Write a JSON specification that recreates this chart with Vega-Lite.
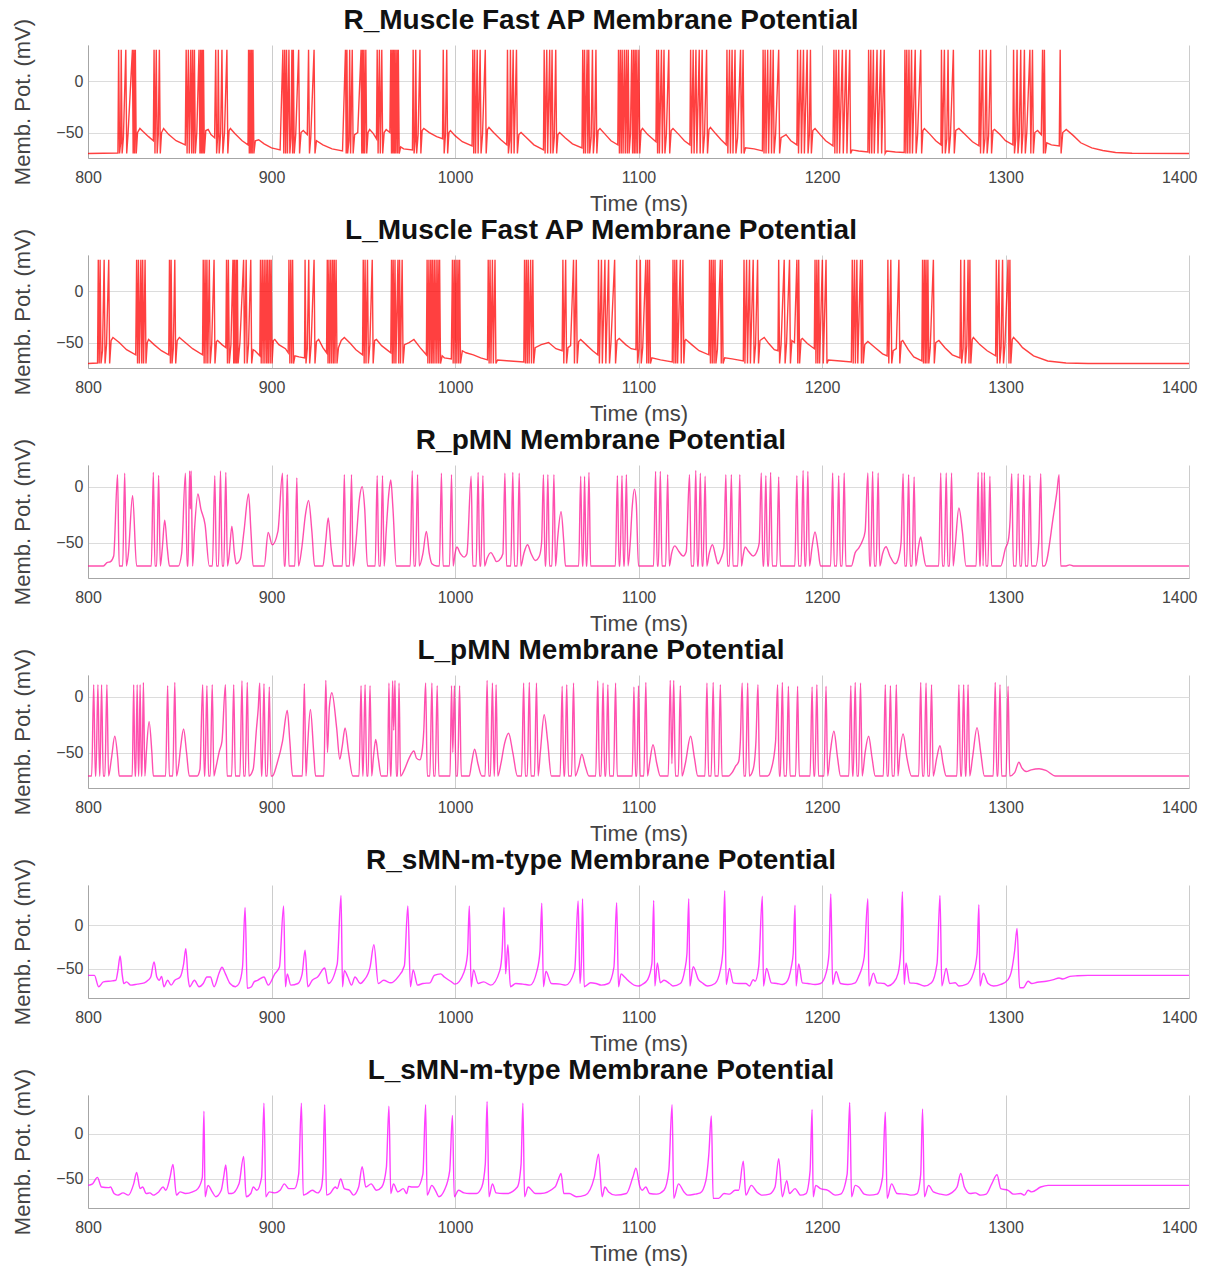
{
  "$schema": "https://vega.github.io/schema/vega-lite/v6.json",
  "padding": {"left": 11, "top": 7, "right": 8, "bottom": 4},
  "spacing": 97,
  "bounds": "flush",
  "config": {
    "view": {"stroke": null},
    "font": "Liberation Sans",
    "axis": {
      "labelFont": "Liberation Sans",
      "labelFontSize": 16,
      "labelColor": "#444444",
      "titleFont": "Liberation Sans",
      "titleFontSize": 22,
      "titleFontWeight": "normal",
      "titleColor": "#444444",
      "ticks": false,
      "tickSize": 0,
      "domainColor": "#a6a6a6",
      "domainWidth": 1,
      "grid": true,
      "gridWidth": 1
    },
    "axisX": {
      "labelPadding": 11.5,
      "labelFlush": false,
      "labelOverlap": false,
      "gridColor": "#cccccc"
    },
    "axisY": {
      "labelPadding": 5,
      "gridColor": "#dcdcdc"
    },
    "title": {
      "font": "Liberation Sans",
      "fontSize": 28,
      "fontWeight": "bold",
      "color": "#111111",
      "anchor": "middle",
      "frame": "bounds",
      "baseline": "alphabetic",
      "offset": -17,
      "dx": -3
    }
  },
  "datasets": {
    "rm": [
      {"t":800,"v":-70.5},{"t":816.3,"v":-70},
      {"t":816.7,"v":31},{"t":817.2,"v":-70.5},{"t":817.8,"v":-60},{"t":818.1,"v":31},{"t":818.6,"v":-70.5},{"t":819.3,"v":-55},{"t":820.6,"v":31},{"t":821.1,"v":-70.5},{"t":821.8,"v":-52},{"t":824.2,"v":31},{"t":824.6,"v":-70.5},{"t":825,"v":31},{"t":825.4,"v":-70.5},{"t":825.8,"v":31},{"t":826.3,"v":-70.5},{"t":827,"v":-50},{"t":828.3,"v":-46},{"t":830,"v":-49},{"t":833,"v":-54},{"t":835.6,"v":-58},
      {"t":836,"v":31},{"t":836.5,"v":-70.5},{"t":837.2,"v":31},{"t":837.7,"v":-70.5},{"t":838.3,"v":-52},{"t":838.9,"v":31},{"t":839.4,"v":-70.5},{"t":840.1,"v":-50},{"t":841.2,"v":-46},{"t":844,"v":-52},{"t":848,"v":-58},{"t":853,"v":-62},
      {"t":853.5,"v":31},{"t":854,"v":-70.5},{"t":854.7,"v":31},{"t":855.2,"v":-70.5},{"t":856,"v":31},{"t":856.5,"v":-70.5},{"t":857,"v":31},{"t":857.5,"v":-70.5},{"t":858,"v":31},{"t":858.5,"v":-70.5},{"t":859.3,"v":-50},{"t":860.5,"v":31},{"t":861,"v":-70.5},{"t":861.4,"v":31},{"t":861.8,"v":-70.5},{"t":862.2,"v":31},{"t":862.6,"v":-70.5},{"t":862.9,"v":31},{"t":863.4,"v":-70.5},{"t":864.2,"v":-48},{"t":865.5,"v":-47},{"t":867,"v":-52},{"t":869,"v":-55},
      {"t":869.6,"v":31},{"t":870.1,"v":-70.5},{"t":870.7,"v":-52},{"t":871,"v":31},{"t":871.5,"v":-70.5},{"t":872.3,"v":-50},{"t":873,"v":31},{"t":873.5,"v":-70.5},{"t":874.4,"v":-50},{"t":875.7,"v":31},{"t":876.2,"v":-70.5},{"t":876.9,"v":-48},{"t":877.6,"v":-46},{"t":880,"v":-51},{"t":884,"v":-58},{"t":887.2,"v":-62},
      {"t":887.5,"v":31},{"t":887.9,"v":-70.5},{"t":888.3,"v":31},{"t":888.7,"v":-70.5},{"t":889.1,"v":31},{"t":889.5,"v":-70.5},{"t":889.9,"v":31},{"t":890.4,"v":-70.5},{"t":891.2,"v":-58},{"t":893,"v":-57},{"t":896,"v":-61},{"t":900,"v":-65},{"t":904.7,"v":-67},
      {"t":906.2,"v":31},{"t":906.7,"v":-70.5},{"t":907.2,"v":31},{"t":907.7,"v":-70.5},{"t":908.2,"v":31},{"t":908.7,"v":-70.5},{"t":909.5,"v":31},{"t":910,"v":-70.5},{"t":910.6,"v":-55},{"t":911.1,"v":31},{"t":911.5,"v":-70.5},{"t":911.9,"v":31},{"t":912.4,"v":-70.5},{"t":913.2,"v":-52},{"t":914.8,"v":31},{"t":915.3,"v":-70.5},{"t":916.1,"v":-50},{"t":917.3,"v":-48},{"t":919.5,"v":-52},{"t":920.2,"v":31},{"t":920.7,"v":-70.5},{"t":921.4,"v":-55},{"t":923.2,"v":31},{"t":923.7,"v":-70.5},{"t":924.5,"v":-58},{"t":928,"v":-62},{"t":933,"v":-66},{"t":938.7,"v":-68},
      {"t":940.3,"v":31},{"t":940.7,"v":-70.5},{"t":941.1,"v":31},{"t":941.5,"v":-70.5},{"t":942.2,"v":-58},{"t":942.6,"v":31},{"t":943.1,"v":-70.5},{"t":944,"v":31},{"t":944.5,"v":-70.5},{"t":945.3,"v":-52},{"t":947,"v":-50},{"t":948.8,"v":31},{"t":949.2,"v":-70.5},{"t":949.6,"v":31},{"t":950,"v":-70.5},{"t":950.4,"v":31},{"t":950.8,"v":-70.5},{"t":951.4,"v":31},{"t":951.9,"v":-70.5},{"t":952.6,"v":-50},{"t":953.5,"v":-47},{"t":955.5,"v":-51},{"t":957.2,"v":-56},
      {"t":957.6,"v":31},{"t":958.1,"v":-70.5},{"t":958.8,"v":31},{"t":959.3,"v":-70.5},{"t":960.1,"v":31},{"t":960.6,"v":-70.5},{"t":961.4,"v":-50},{"t":962.5,"v":-47},{"t":964.5,"v":-50},{"t":965,"v":31},{"t":965.4,"v":-70.5},{"t":965.8,"v":31},{"t":966.2,"v":-70.5},{"t":966.6,"v":31},{"t":967,"v":-70.5},{"t":967.4,"v":31},{"t":967.8,"v":-70.5},{"t":968.3,"v":31},{"t":968.7,"v":-70.5},{"t":969.1,"v":31},{"t":969.6,"v":-70.5},{"t":970.4,"v":-64},{"t":972,"v":-66},{"t":976.8,"v":-67},
      {"t":977.2,"v":31},{"t":977.7,"v":-70.5},{"t":978.3,"v":-58},{"t":978.6,"v":31},{"t":979.1,"v":-70.5},{"t":979.9,"v":-52},{"t":980.9,"v":31},{"t":981.4,"v":-70.5},{"t":982.1,"v":-48},{"t":983,"v":-46},{"t":986,"v":-50},{"t":990,"v":-54},{"t":993.2,"v":-56},
      {"t":993.6,"v":31},{"t":994.1,"v":-70.5},{"t":994.8,"v":-52},{"t":995.5,"v":31},{"t":996,"v":-70.5},{"t":996.7,"v":-50},{"t":997.5,"v":-48},{"t":1000,"v":-53},{"t":1004,"v":-59},{"t":1009.3,"v":-63},
      {"t":1009.7,"v":31},{"t":1010.2,"v":-70.5},{"t":1010.7,"v":31},{"t":1011.2,"v":-70.5},{"t":1012.1,"v":31},{"t":1012.6,"v":-70.5},{"t":1013.7,"v":31},{"t":1014.2,"v":-70.5},{"t":1015,"v":-52},{"t":1016.5,"v":31},{"t":1017,"v":-70.5},{"t":1017.7,"v":-47},{"t":1018.5,"v":-45},{"t":1021,"v":-50},{"t":1025,"v":-57},{"t":1028.2,"v":-62},
      {"t":1028.6,"v":31},{"t":1029.1,"v":-70.5},{"t":1029.8,"v":-58},{"t":1030.2,"v":31},{"t":1030.7,"v":-70.5},{"t":1031.7,"v":31},{"t":1032.2,"v":-70.5},{"t":1033.5,"v":31},{"t":1034,"v":-70.5},{"t":1034.8,"v":-52},{"t":1036,"v":-50},{"t":1039,"v":-55},{"t":1043,"v":-62},{"t":1048.2,"v":-67},
      {"t":1048.6,"v":31},{"t":1049.1,"v":-70.5},{"t":1050,"v":31},{"t":1050.5,"v":-70.5},{"t":1051.6,"v":31},{"t":1052.1,"v":-70.5},{"t":1052.9,"v":31},{"t":1053.4,"v":-70.5},{"t":1054.1,"v":-55},{"t":1054.9,"v":31},{"t":1055.4,"v":-70.5},{"t":1056.1,"v":-52},{"t":1057,"v":-50},{"t":1060,"v":-55},{"t":1064,"v":-61},{"t":1069.2,"v":-65},
      {"t":1069.6,"v":31},{"t":1070.1,"v":-70.5},{"t":1070.6,"v":31},{"t":1071.1,"v":-70.5},{"t":1072,"v":31},{"t":1072.4,"v":-70.5},{"t":1072.9,"v":31},{"t":1073.4,"v":-70.5},{"t":1074.2,"v":-55},{"t":1074.9,"v":31},{"t":1075.4,"v":-70.5},{"t":1076.1,"v":-52},{"t":1076.8,"v":31},{"t":1077.3,"v":-70.5},{"t":1078,"v":-48},{"t":1079,"v":-46},{"t":1082,"v":-52},{"t":1085,"v":-58},{"t":1088.7,"v":-62},
      {"t":1089.1,"v":31},{"t":1089.6,"v":-70.5},{"t":1090.1,"v":31},{"t":1090.6,"v":-70.5},{"t":1091.1,"v":31},{"t":1091.6,"v":-70.5},{"t":1092.3,"v":31},{"t":1092.8,"v":-70.5},{"t":1093.4,"v":31},{"t":1093.9,"v":-70.5},{"t":1094.4,"v":31},{"t":1094.9,"v":-70.5},{"t":1095.6,"v":-52},{"t":1096.3,"v":31},{"t":1096.8,"v":-70.5},{"t":1097.3,"v":31},{"t":1097.7,"v":-70.5},{"t":1098.2,"v":31},{"t":1098.6,"v":-70.5},{"t":1099.1,"v":31},{"t":1099.5,"v":-70.5},{"t":1100.2,"v":31},{"t":1100.7,"v":-70.5},{"t":1101.4,"v":-48},{"t":1102.2,"v":-46},{"t":1105,"v":-52},{"t":1109.5,"v":-59},
      {"t":1109.9,"v":31},{"t":1110.4,"v":-70.5},{"t":1110.9,"v":31},{"t":1111.4,"v":-70.5},{"t":1112.5,"v":31},{"t":1113,"v":-70.5},{"t":1113.9,"v":31},{"t":1114.4,"v":-70.5},{"t":1115.2,"v":-52},{"t":1116.5,"v":31},{"t":1117,"v":-70.5},{"t":1117.8,"v":-48},{"t":1118.8,"v":-46},{"t":1122,"v":-52},{"t":1125,"v":-58},{"t":1128,"v":-62},
      {"t":1128.4,"v":31},{"t":1128.9,"v":-70.5},{"t":1129.8,"v":31},{"t":1130.3,"v":-70.5},{"t":1131.3,"v":31},{"t":1131.8,"v":-70.5},{"t":1133.1,"v":31},{"t":1133.6,"v":-70.5},{"t":1134.7,"v":31},{"t":1135.2,"v":-70.5},{"t":1136,"v":-52},{"t":1137.1,"v":31},{"t":1137.6,"v":-70.5},{"t":1138.4,"v":-47},{"t":1139.2,"v":-45},{"t":1142,"v":-51},{"t":1145,"v":-57},{"t":1147.8,"v":-62},
      {"t":1148.2,"v":31},{"t":1148.7,"v":-70.5},{"t":1149.6,"v":31},{"t":1150.1,"v":-70.5},{"t":1151,"v":31},{"t":1151.5,"v":-70.5},{"t":1152.6,"v":31},{"t":1153.1,"v":-70.5},{"t":1154,"v":-55},{"t":1155.6,"v":31},{"t":1156.1,"v":-70.5},{"t":1157,"v":31},{"t":1157.5,"v":-70.5},{"t":1158.3,"v":-65},{"t":1163,"v":-66},{"t":1167.5,"v":-68},
      {"t":1167.9,"v":31},{"t":1168.4,"v":-70.5},{"t":1169,"v":31},{"t":1169.5,"v":-70.5},{"t":1170.4,"v":31},{"t":1170.9,"v":-70.5},{"t":1172,"v":31},{"t":1172.5,"v":-70.5},{"t":1173.4,"v":31},{"t":1173.9,"v":-70.5},{"t":1174.7,"v":-52},{"t":1176.4,"v":31},{"t":1176.9,"v":-70.5},{"t":1177.7,"v":-55},{"t":1180.4,"v":-52},{"t":1183,"v":-58},{"t":1186.3,"v":-62},
      {"t":1186.7,"v":31},{"t":1187.2,"v":-70.5},{"t":1188.3,"v":31},{"t":1188.8,"v":-70.5},{"t":1189.9,"v":31},{"t":1190.4,"v":-70.5},{"t":1191.9,"v":31},{"t":1192.4,"v":-70.5},{"t":1193.1,"v":-52},{"t":1193.7,"v":31},{"t":1194.2,"v":-70.5},{"t":1195,"v":-48},{"t":1196.2,"v":-46},{"t":1199,"v":-52},{"t":1202,"v":-58},{"t":1206,"v":-63},
      {"t":1206.5,"v":31},{"t":1207,"v":-70.5},{"t":1207.7,"v":31},{"t":1208.2,"v":-70.5},{"t":1209.1,"v":31},{"t":1209.6,"v":-70.5},{"t":1211.1,"v":31},{"t":1211.6,"v":-70.5},{"t":1213.1,"v":31},{"t":1213.6,"v":-70.5},{"t":1215.1,"v":31},{"t":1215.6,"v":-70.5},{"t":1216.4,"v":-67},{"t":1220,"v":-68},{"t":1225,"v":-69},
      {"t":1225.4,"v":31},{"t":1225.9,"v":-70.5},{"t":1226.6,"v":31},{"t":1227.1,"v":-70.5},{"t":1228,"v":31},{"t":1228.5,"v":-70.5},{"t":1230,"v":31},{"t":1230.5,"v":-70.5},{"t":1232,"v":31},{"t":1232.5,"v":-70.5},{"t":1233.9,"v":31},{"t":1234.4,"v":-70.5},{"t":1235.2,"v":-68},{"t":1240,"v":-69},{"t":1244.8,"v":-69.5},
      {"t":1245.2,"v":31},{"t":1245.7,"v":-70.5},{"t":1246.2,"v":31},{"t":1246.7,"v":-70.5},{"t":1247.4,"v":31},{"t":1247.9,"v":-70.5},{"t":1248.8,"v":31},{"t":1249.3,"v":-70.5},{"t":1250.8,"v":31},{"t":1251.3,"v":-70.5},{"t":1252.1,"v":-52},{"t":1253.8,"v":31},{"t":1254.3,"v":-70.5},{"t":1255,"v":-48},{"t":1255.8,"v":-46},{"t":1259,"v":-52},{"t":1262,"v":-58},{"t":1264.8,"v":-62},
      {"t":1265.1,"v":31},{"t":1265.6,"v":-70.5},{"t":1266.7,"v":31},{"t":1267.2,"v":-70.5},{"t":1268,"v":-56},{"t":1268.7,"v":31},{"t":1269.2,"v":-70.5},{"t":1270,"v":-53},{"t":1271.6,"v":31},{"t":1272.1,"v":-70.5},{"t":1272.9,"v":-48},{"t":1274.6,"v":-46},{"t":1278,"v":-52},{"t":1282,"v":-59},{"t":1285.5,"v":-63},
      {"t":1285.9,"v":31},{"t":1286.4,"v":-70.5},{"t":1287.5,"v":31},{"t":1288,"v":-70.5},{"t":1288.8,"v":-56},{"t":1289.5,"v":31},{"t":1290,"v":-70.5},{"t":1290.8,"v":-53},{"t":1291.9,"v":31},{"t":1292.4,"v":-70.5},{"t":1293.2,"v":-48},{"t":1294,"v":-47},{"t":1297,"v":-52},{"t":1300,"v":-58},{"t":1304,"v":-62},
      {"t":1304.4,"v":31},{"t":1304.9,"v":-70.5},{"t":1305.6,"v":-56},{"t":1306.3,"v":31},{"t":1306.8,"v":-70.5},{"t":1307.5,"v":-53},{"t":1308.3,"v":31},{"t":1308.8,"v":-70.5},{"t":1309.5,"v":-51},{"t":1310.3,"v":31},{"t":1310.8,"v":-70.5},{"t":1311.6,"v":-50},{"t":1313.3,"v":31},{"t":1313.8,"v":-70.5},{"t":1314.7,"v":31},{"t":1315.2,"v":-70.5},{"t":1316,"v":-50},{"t":1317.5,"v":-48},{"t":1319.5,"v":-52},{"t":1320.2,"v":31},{"t":1320.7,"v":-70.5},{"t":1321.2,"v":31},{"t":1321.7,"v":-70.5},{"t":1322.5,"v":-60},{"t":1325,"v":-62},{"t":1329.3,"v":-63},{"t":1329.8,"v":31},{"t":1330.3,"v":-70.5},{"t":1331.2,"v":-50},{"t":1333.1,"v":-47},{"t":1337,"v":-53},{"t":1341,"v":-60},{"t":1347,"v":-65},{"t":1353,"v":-67.5},{"t":1360,"v":-69.5},{"t":1369,"v":-70.3},{"t":1400,"v":-70.5}
    ],
    "lm": [
      {"t":800,"v":-70.5},{"t":805.2,"v":-70},
      {"t":805.6,"v":31},{"t":806.1,"v":-70.5},{"t":806.6,"v":31},{"t":807.1,"v":-70.5},{"t":807.9,"v":-58},{"t":808.8,"v":31},{"t":809.3,"v":-70.5},{"t":810.1,"v":-52},{"t":811.3,"v":31},{"t":811.8,"v":-70.5},{"t":812.6,"v":-48},{"t":813.6,"v":-45},{"t":817,"v":-50},{"t":821,"v":-57},{"t":826,"v":-62},
      {"t":826.5,"v":31},{"t":827,"v":-70.5},{"t":827.5,"v":31},{"t":828,"v":-70.5},{"t":828.8,"v":31},{"t":829.3,"v":-70.5},{"t":829.8,"v":31},{"t":830.3,"v":-70.5},{"t":831.1,"v":31},{"t":831.6,"v":-70.5},{"t":832.3,"v":-50},{"t":833,"v":-47},{"t":836,"v":-52},{"t":840,"v":-58},{"t":844,"v":-62},
      {"t":844.4,"v":31},{"t":844.9,"v":-70.5},{"t":845.3,"v":31},{"t":845.8,"v":-70.5},{"t":846.5,"v":-56},{"t":847.3,"v":31},{"t":847.8,"v":-70.5},{"t":848.6,"v":-48},{"t":849.8,"v":-45},{"t":853,"v":-50},{"t":857,"v":-56},{"t":862.4,"v":-62},
      {"t":862.8,"v":31},{"t":863.3,"v":-70.5},{"t":863.8,"v":31},{"t":864.3,"v":-70.5},{"t":864.8,"v":31},{"t":865.3,"v":-70.5},{"t":866.1,"v":31},{"t":866.6,"v":-70.5},{"t":867.4,"v":-52},{"t":868.7,"v":31},{"t":869.2,"v":-70.5},{"t":870,"v":-49},{"t":870.6,"v":-48},{"t":873,"v":-52},{"t":875.1,"v":-55},
      {"t":875.5,"v":31},{"t":876,"v":-70.5},{"t":876.5,"v":31},{"t":877,"v":-70.5},{"t":877.9,"v":-52},{"t":879,"v":31},{"t":879.4,"v":-70.5},{"t":879.8,"v":31},{"t":880.2,"v":-70.5},{"t":880.7,"v":31},{"t":881,"v":-70.5},{"t":881.4,"v":31},{"t":881.8,"v":-70.5},{"t":882.8,"v":-50},{"t":884.8,"v":31},{"t":885.3,"v":-70.5},{"t":886.2,"v":31},{"t":886.7,"v":-70.5},{"t":887.5,"v":-52},{"t":888.7,"v":31},{"t":889.2,"v":-70.5},{"t":890,"v":-57},{"t":891,"v":-58},{"t":893.6,"v":-63},
      {"t":894,"v":31},{"t":894.4,"v":-70.5},{"t":895,"v":31},{"t":895.4,"v":-70.5},{"t":896,"v":31},{"t":896.4,"v":-70.5},{"t":897,"v":31},{"t":897.4,"v":-70.5},{"t":897.9,"v":31},{"t":898.3,"v":-70.5},{"t":898.9,"v":31},{"t":899.3,"v":-70.5},{"t":899.8,"v":31},{"t":900.3,"v":-70.5},{"t":901,"v":-48},{"t":901.8,"v":-47},{"t":904,"v":-52},{"t":907.6,"v":-56},{"t":909.1,"v":-60},
      {"t":909.5,"v":31},{"t":910,"v":-70.5},{"t":910.5,"v":31},{"t":911,"v":-70.5},{"t":911.5,"v":31},{"t":912,"v":-70.5},{"t":912.8,"v":-63},{"t":915,"v":-64},{"t":918,"v":-65},
      {"t":918.3,"v":31},{"t":918.8,"v":-70.5},{"t":919.5,"v":-56},{"t":920.3,"v":31},{"t":920.8,"v":-70.5},{"t":921.6,"v":-52},{"t":923.2,"v":31},{"t":923.7,"v":-70.5},{"t":924.5,"v":-49},{"t":925.7,"v":-47},{"t":928,"v":-55},{"t":930,"v":-60},
      {"t":930.4,"v":31},{"t":930.8,"v":-70.5},{"t":931.3,"v":31},{"t":931.7,"v":-70.5},{"t":932.3,"v":31},{"t":932.7,"v":-70.5},{"t":933.3,"v":31},{"t":933.7,"v":-70.5},{"t":934.2,"v":31},{"t":934.6,"v":-70.5},{"t":935.2,"v":31},{"t":935.7,"v":-70.5},{"t":936.5,"v":-55},{"t":938,"v":-48},{"t":939.7,"v":-45},{"t":943,"v":-51},{"t":946,"v":-57},{"t":949.6,"v":-62},
      {"t":950,"v":31},{"t":950.5,"v":-70.5},{"t":951,"v":31},{"t":951.5,"v":-70.5},{"t":952.3,"v":31},{"t":952.8,"v":-70.5},{"t":953.6,"v":-52},{"t":954.9,"v":31},{"t":955.4,"v":-70.5},{"t":956.2,"v":-48},{"t":957.2,"v":-47},{"t":960,"v":-53},{"t":965,"v":-60},
      {"t":965.4,"v":31},{"t":965.9,"v":-70.5},{"t":966.3,"v":31},{"t":966.8,"v":-70.5},{"t":967.3,"v":31},{"t":967.8,"v":-70.5},{"t":968.9,"v":31},{"t":969.3,"v":-70.5},{"t":969.8,"v":31},{"t":970.3,"v":-70.5},{"t":971.2,"v":31},{"t":971.7,"v":-70.5},{"t":972.5,"v":-52},{"t":975,"v":-50},{"t":977.6,"v":-47},{"t":981,"v":-55},{"t":984.4,"v":-62},
      {"t":984.8,"v":31},{"t":985.2,"v":-70.5},{"t":985.8,"v":31},{"t":986.2,"v":-70.5},{"t":986.8,"v":31},{"t":987.2,"v":-70.5},{"t":987.7,"v":31},{"t":988.1,"v":-70.5},{"t":988.7,"v":31},{"t":989.1,"v":-70.5},{"t":989.7,"v":31},{"t":990.1,"v":-70.5},{"t":990.7,"v":31},{"t":991.1,"v":-70.5},{"t":991.6,"v":31},{"t":992.1,"v":-70.5},{"t":993,"v":-63},{"t":994.2,"v":-65},{"t":998,"v":-66},
      {"t":998.6,"v":31},{"t":999,"v":-70.5},{"t":999.6,"v":31},{"t":1000,"v":-70.5},{"t":1000.6,"v":31},{"t":1001,"v":-70.5},{"t":1001.6,"v":31},{"t":1002,"v":-70.5},{"t":1002.5,"v":31},{"t":1003,"v":-70.5},{"t":1004,"v":-58},{"t":1006,"v":-60},{"t":1010,"v":-62},{"t":1014,"v":-65},{"t":1017.7,"v":-67},
      {"t":1018.1,"v":31},{"t":1018.6,"v":-70.5},{"t":1019.1,"v":31},{"t":1019.6,"v":-70.5},{"t":1020.4,"v":31},{"t":1020.9,"v":-70.5},{"t":1021.8,"v":31},{"t":1022.3,"v":-70.5},{"t":1023.2,"v":-67},{"t":1030,"v":-68},{"t":1037.5,"v":-69},
      {"t":1037.9,"v":31},{"t":1038.4,"v":-70.5},{"t":1038.9,"v":31},{"t":1039.4,"v":-70.5},{"t":1039.9,"v":31},{"t":1040.4,"v":-70.5},{"t":1041.2,"v":31},{"t":1041.7,"v":-70.5},{"t":1042.4,"v":31},{"t":1042.9,"v":-70.5},{"t":1043.7,"v":-55},{"t":1047,"v":-52},{"t":1051,"v":-50},{"t":1055,"v":-56},{"t":1058.4,"v":-58},
      {"t":1058.8,"v":31},{"t":1059.3,"v":-70.5},{"t":1060.3,"v":31},{"t":1060.8,"v":-70.5},{"t":1061.6,"v":-55},{"t":1063,"v":-53},{"t":1064.6,"v":31},{"t":1065.1,"v":-70.5},{"t":1066.1,"v":31},{"t":1066.6,"v":-70.5},{"t":1067.4,"v":-49},{"t":1068.5,"v":-47},{"t":1072,"v":-53},{"t":1075,"v":-58},{"t":1077.8,"v":-62},
      {"t":1078.2,"v":31},{"t":1078.7,"v":-70.5},{"t":1079.8,"v":31},{"t":1080.3,"v":-70.5},{"t":1081.7,"v":31},{"t":1082.2,"v":-70.5},{"t":1083.7,"v":31},{"t":1084.2,"v":-70.5},{"t":1085,"v":-50},{"t":1087,"v":31},{"t":1087.5,"v":-70.5},{"t":1088.3,"v":-48},{"t":1089.5,"v":-46},{"t":1093,"v":-52},{"t":1096,"v":-56},{"t":1098.6,"v":-57},
      {"t":1099,"v":31},{"t":1099.5,"v":-70.5},{"t":1100.3,"v":-56},{"t":1101,"v":31},{"t":1101.5,"v":-70.5},{"t":1102.3,"v":-55},{"t":1104,"v":31},{"t":1104.5,"v":-70.5},{"t":1105,"v":31},{"t":1105.5,"v":-70.5},{"t":1106,"v":31},{"t":1106.5,"v":-70.5},{"t":1107.3,"v":-65},{"t":1112,"v":-67},{"t":1118.4,"v":-69},
      {"t":1118.8,"v":31},{"t":1119.3,"v":-70.5},{"t":1119.8,"v":31},{"t":1120.3,"v":-70.5},{"t":1120.8,"v":31},{"t":1121.3,"v":-70.5},{"t":1122.8,"v":31},{"t":1123.3,"v":-70.5},{"t":1124.2,"v":31},{"t":1124.7,"v":-70.5},{"t":1125.3,"v":-48},{"t":1125.8,"v":-47},{"t":1129,"v":-52},{"t":1133,"v":-58},{"t":1138.3,"v":-62},
      {"t":1138.7,"v":31},{"t":1139.2,"v":-70.5},{"t":1139.7,"v":31},{"t":1140.2,"v":-70.5},{"t":1140.7,"v":31},{"t":1141.2,"v":-70.5},{"t":1141.7,"v":31},{"t":1142.2,"v":-70.5},{"t":1143,"v":-57},{"t":1144.6,"v":31},{"t":1145.1,"v":-70.5},{"t":1145.6,"v":31},{"t":1146.1,"v":-70.5},{"t":1147,"v":-65},{"t":1151,"v":-66},{"t":1157.1,"v":-68},
      {"t":1157.5,"v":31},{"t":1158,"v":-70.5},{"t":1158.9,"v":31},{"t":1159.4,"v":-70.5},{"t":1160.5,"v":31},{"t":1161,"v":-70.5},{"t":1162.5,"v":31},{"t":1163,"v":-70.5},{"t":1163.8,"v":-52},{"t":1164.9,"v":31},{"t":1165.4,"v":-70.5},{"t":1166.2,"v":-48},{"t":1168.5,"v":-45},{"t":1171,"v":-51},{"t":1174,"v":-57},{"t":1176,"v":-58},
      {"t":1176.4,"v":31},{"t":1176.9,"v":-70.5},{"t":1177.7,"v":-52},{"t":1179.4,"v":31},{"t":1179.9,"v":-70.5},{"t":1180.7,"v":-50},{"t":1182.3,"v":31},{"t":1182.8,"v":-70.5},{"t":1183.6,"v":-48},{"t":1185,"v":-50},{"t":1186.3,"v":31},{"t":1186.8,"v":-70.5},{"t":1187.3,"v":31},{"t":1187.8,"v":-70.5},{"t":1188.6,"v":-47},{"t":1189.3,"v":-46},{"t":1192,"v":-51},{"t":1195.8,"v":-56},
      {"t":1196.2,"v":31},{"t":1196.7,"v":-70.5},{"t":1197.2,"v":31},{"t":1197.7,"v":-70.5},{"t":1198.2,"v":31},{"t":1198.7,"v":-70.5},{"t":1200.2,"v":31},{"t":1200.7,"v":-70.5},{"t":1202.2,"v":31},{"t":1202.7,"v":-70.5},{"t":1203.5,"v":-67},{"t":1210,"v":-68},{"t":1216,"v":-69},
      {"t":1216.5,"v":31},{"t":1217,"v":-70.5},{"t":1217.7,"v":31},{"t":1218.2,"v":-70.5},{"t":1219,"v":31},{"t":1219.5,"v":-70.5},{"t":1221,"v":31},{"t":1221.5,"v":-70.5},{"t":1222,"v":31},{"t":1222.5,"v":-70.5},{"t":1223.3,"v":-52},{"t":1225,"v":-49},{"t":1229,"v":-55},{"t":1233,"v":-61},{"t":1235.5,"v":-63},
      {"t":1235.9,"v":31},{"t":1236.4,"v":-70.5},{"t":1237.5,"v":31},{"t":1238,"v":-70.5},{"t":1238.8,"v":-58},{"t":1240.5,"v":-56},{"t":1241.9,"v":31},{"t":1242.4,"v":-70.5},{"t":1243.2,"v":-49},{"t":1244,"v":-48},{"t":1247,"v":-57},{"t":1250,"v":-64},{"t":1254.4,"v":-68},
      {"t":1254.8,"v":31},{"t":1255.3,"v":-70.5},{"t":1255.8,"v":31},{"t":1256.3,"v":-70.5},{"t":1256.7,"v":31},{"t":1257.2,"v":-70.5},{"t":1257.7,"v":31},{"t":1258.2,"v":-70.5},{"t":1259,"v":-55},{"t":1260.7,"v":31},{"t":1261.2,"v":-70.5},{"t":1262,"v":-50},{"t":1263.7,"v":-48},{"t":1267,"v":-55},{"t":1271,"v":-62},{"t":1275.2,"v":-65},
      {"t":1275.6,"v":31},{"t":1276.1,"v":-70.5},{"t":1276.9,"v":-56},{"t":1277.6,"v":31},{"t":1278.1,"v":-70.5},{"t":1278.9,"v":-53},{"t":1279.6,"v":31},{"t":1280.1,"v":-70.5},{"t":1280.6,"v":31},{"t":1281.1,"v":-70.5},{"t":1281.9,"v":-47},{"t":1282.5,"v":-45},{"t":1286,"v":-52},{"t":1290,"v":-58},{"t":1294.6,"v":-63},
      {"t":1295,"v":31},{"t":1295.5,"v":-70.5},{"t":1296.4,"v":31},{"t":1296.9,"v":-70.5},{"t":1297.6,"v":-55},{"t":1298.4,"v":31},{"t":1298.9,"v":-70.5},{"t":1299.7,"v":-52},{"t":1301.4,"v":31},{"t":1301.9,"v":-70.5},{"t":1302.4,"v":31},{"t":1302.9,"v":-70.5},{"t":1303.7,"v":-47},{"t":1304.4,"v":-45},{"t":1307,"v":-50},{"t":1309.3,"v":-55},{"t":1315.3,"v":-63},{"t":1323,"v":-68},{"t":1333,"v":-70},{"t":1345,"v":-70.5},{"t":1400,"v":-70.5}
    ],
    "rp": [
      {"t":800,"v":-71},{"t":808.4,"v":-71},{"t":810.3,"v":-68},{"t":812.3,"v":-67},{"t":814,"v":-62},{"t":816.1,"v":10.7},{"t":817,"v":-71},{"t":818.9,"v":-71},{"t":820,"v":12},{"t":820.9,"v":-71},
      {"t":822,"v":-60},{"t":824.3,"v":-8},{"t":826.5,"v":-71},
      {"t":833.7,"v":-71},{"t":834.5,"v":-71},{"t":835.6,"v":12.7},{"t":836.5,"v":-71},{"t":837.4,"v":-71},{"t":838.5,"v":10},{"t":839.4,"v":-71},
      {"t":840.5,"v":-55},{"t":841.8,"v":-30},{"t":843.2,"v":-55},{"t":844.4,"v":-71},
      {"t":849.2,"v":-71},{"t":851,"v":-60},{"t":853.1,"v":12},{"t":854,"v":-71},{"t":854.5,"v":-71},{"t":855.4,"v":14},{"t":855.8,"v":-20},{"t":856.2,"v":14},{"t":857,"v":-71},
      {"t":858,"v":-40},{"t":859.9,"v":-6.6},{"t":861.5,"v":-20},{"t":863.8,"v":-34},{"t":866.1,"v":-71},
      {"t":867.8,"v":-71},{"t":869.1,"v":9.8},{"t":870,"v":-71},{"t":871.1,"v":-71},{"t":872.2,"v":14},{"t":873.1,"v":-71},{"t":874,"v":-71},{"t":875.1,"v":12.7},{"t":876,"v":-71},
      {"t":877,"v":-60},{"t":878.4,"v":-35.5},{"t":879.8,"v":-60},{"t":880.8,"v":-69},
      {"t":883,"v":-65},{"t":885,"v":-40},{"t":887.5,"v":-6.6},{"t":888.8,"v":-40},{"t":890,"v":-71},
      {"t":896,"v":-71},{"t":898.2,"v":-41},{"t":900.4,"v":-52},{"t":903.5,"v":-40},{"t":906,"v":12},{"t":906.9,"v":-71},{"t":907.5,"v":-71},{"t":908.6,"v":10.7},{"t":909.5,"v":-71},{"t":912.7,"v":-71},{"t":913.8,"v":7.8},{"t":914.7,"v":-71},
      {"t":916.5,"v":-55},{"t":918.5,"v":-25},{"t":920.2,"v":-12.4},{"t":922,"v":-40},{"t":923.5,"v":-71},
      {"t":928,"v":-71},{"t":929.5,"v":-50},{"t":930.9,"v":-28},{"t":932.5,"v":-55},{"t":933.8,"v":-71},
      {"t":938.6,"v":-71},{"t":939.7,"v":10.7},{"t":940.6,"v":-71},{"t":942.5,"v":-71},{"t":943.6,"v":10.7},{"t":944.5,"v":-71},
      {"t":946,"v":-50},{"t":948,"v":-10},{"t":949.4,"v":0},{"t":950.8,"v":-20},{"t":952.3,"v":-71},
      {"t":956.5,"v":-71},{"t":957.6,"v":9.8},{"t":958.5,"v":-71},{"t":959.4,"v":-71},{"t":960.5,"v":9.8},{"t":961.4,"v":-71},
      {"t":962.5,"v":-40},{"t":964,"v":-5},{"t":965,"v":6},{"t":966.2,"v":-20},{"t":968,"v":-71},
      {"t":975.6,"v":-71},{"t":976.7,"v":14.2},{"t":977.6,"v":-71},{"t":978.5,"v":-71},{"t":979.6,"v":10.7},{"t":980.5,"v":-71},
      {"t":982.5,"v":-60},{"t":984.4,"v":-40},{"t":986,"v":-60},{"t":987.4,"v":-69},{"t":990,"v":-71},{"t":991.5,"v":-71},{"t":992.6,"v":12},{"t":993.5,"v":-71},{"t":997,"v":-71},{"t":998.1,"v":10.7},{"t":999,"v":-71},
      {"t":1000,"v":-60},{"t":1001,"v":-54},{"t":1003,"v":-60},{"t":1004.9,"v":-63},{"t":1006.5,"v":-60},{"t":1008.8,"v":9.2},{"t":1009.7,"v":-71},{"t":1011.5,"v":-71},{"t":1012.6,"v":12.7},{"t":1013.5,"v":-71},{"t":1014.1,"v":-71},{"t":1015.2,"v":9.8},{"t":1016.1,"v":-71},
      {"t":1017.5,"v":-64},{"t":1019.5,"v":-59},{"t":1021.5,"v":-64},{"t":1022.4,"v":-67},{"t":1024,"v":-66},{"t":1026.1,"v":-60},{"t":1027.2,"v":12},{"t":1028.1,"v":-71},{"t":1030.4,"v":-71},{"t":1031.5,"v":12.7},{"t":1032.4,"v":-71},{"t":1033.9,"v":-71},{"t":1035,"v":12},{"t":1035.9,"v":-71},
      {"t":1037.5,"v":-60},{"t":1039.5,"v":-52},{"t":1041.5,"v":-60},{"t":1043.8,"v":-66},{"t":1046,"v":-62},{"t":1047.2,"v":-50},{"t":1048.2,"v":10.7},{"t":1049.1,"v":-71},{"t":1049.5,"v":-71},{"t":1050.6,"v":10.7},{"t":1051.5,"v":-71},{"t":1052.8,"v":-71},{"t":1053.9,"v":10.7},{"t":1054.8,"v":-71},
      {"t":1056,"v":-45},{"t":1057.8,"v":-22.5},{"t":1059.3,"v":-50},{"t":1060.2,"v":-71},
      {"t":1067.4,"v":-71},{"t":1068.5,"v":9.2},{"t":1069.4,"v":-71},{"t":1069.8,"v":-71},{"t":1070.6,"v":9.2},{"t":1071.5,"v":-71},{"t":1071.9,"v":-71},{"t":1073,"v":12.7},{"t":1073.9,"v":-71},
      {"t":1087.4,"v":-71},{"t":1088.5,"v":9.8},{"t":1089.4,"v":-71},{"t":1089.9,"v":-71},{"t":1091,"v":9.8},{"t":1091.9,"v":-71},{"t":1092.3,"v":-71},{"t":1093.4,"v":10.7},{"t":1094.3,"v":-71},
      {"t":1095.5,"v":-50},{"t":1096.5,"v":-20},{"t":1097.8,"v":-2.3},{"t":1098.8,"v":-15},{"t":1100,"v":-71},
      {"t":1108.2,"v":-71},{"t":1109.3,"v":13.6},{"t":1110.2,"v":-71},{"t":1110.8,"v":-71},{"t":1111.9,"v":13.6},{"t":1112.8,"v":-71},{"t":1114.8,"v":-71},{"t":1115.9,"v":10.7},{"t":1116.8,"v":-71},
      {"t":1118,"v":-60},{"t":1119.8,"v":-53},{"t":1122,"v":-58},{"t":1124.4,"v":-62},{"t":1126,"v":-58},{"t":1127.8,"v":10.7},{"t":1128.7,"v":-71},{"t":1130.1,"v":-71},{"t":1131.2,"v":14.5},{"t":1132.1,"v":-71},{"t":1132.6,"v":-71},{"t":1133.7,"v":11.9},{"t":1134.6,"v":-71},{"t":1135.2,"v":-71},{"t":1136.3,"v":9.2},{"t":1137.2,"v":-71},
      {"t":1138.5,"v":-60},{"t":1140.3,"v":-52},{"t":1142,"v":-62},{"t":1143.3,"v":-69},{"t":1145,"v":-64},{"t":1146.5,"v":-55},{"t":1147.6,"v":10.7},{"t":1148.5,"v":-71},{"t":1149.5,"v":-71},{"t":1150.6,"v":10.7},{"t":1151.5,"v":-71},{"t":1154.1,"v":-71},{"t":1155.2,"v":10.7},{"t":1156.1,"v":-71},
      {"t":1157,"v":-62},{"t":1158.1,"v":-54},{"t":1160,"v":-58},{"t":1162.5,"v":-62},{"t":1164.5,"v":-58},{"t":1165.8,"v":-50},{"t":1166.9,"v":12.1},{"t":1167.8,"v":-71},{"t":1168.3,"v":-71},{"t":1169.4,"v":9.8},{"t":1170.3,"v":-71},{"t":1170.9,"v":-71},{"t":1172,"v":12.7},{"t":1172.9,"v":-71},{"t":1175.3,"v":-71},{"t":1176.4,"v":8.7},{"t":1177.3,"v":-71},
      {"t":1185.2,"v":-71},{"t":1186.3,"v":9.8},{"t":1187.2,"v":-71},{"t":1188.6,"v":-71},{"t":1189.7,"v":14.5},{"t":1190.6,"v":-71},{"t":1191.2,"v":-71},{"t":1192.3,"v":13.6},{"t":1193.2,"v":-71},
      {"t":1194.5,"v":-55},{"t":1196.2,"v":-40.5},{"t":1197.8,"v":-55},{"t":1199.2,"v":-71},
      {"t":1204.7,"v":-71},{"t":1205.8,"v":12.1},{"t":1206.7,"v":-71},{"t":1208,"v":-71},{"t":1209.1,"v":9.8},{"t":1210,"v":-71},{"t":1211,"v":-71},{"t":1212.1,"v":12.1},{"t":1213,"v":-71},
      {"t":1216,"v":-71},{"t":1218.1,"v":-59},{"t":1220,"v":-55},{"t":1222,"v":-48.6},{"t":1223.5,"v":-40},{"t":1225,"v":12.1},{"t":1225.9,"v":-71},{"t":1226.5,"v":-71},{"t":1227.6,"v":13.6},{"t":1228.5,"v":-71},{"t":1229.5,"v":-71},{"t":1230.6,"v":12.1},{"t":1231.5,"v":-71},
      {"t":1233,"v":-60},{"t":1234.9,"v":-53.8},{"t":1237,"v":-62},{"t":1239.9,"v":-69},{"t":1242,"v":-62},{"t":1243.1,"v":-50},{"t":1244.2,"v":11.6},{"t":1245.1,"v":-71},{"t":1246.1,"v":-71},{"t":1247.2,"v":10.7},{"t":1248.1,"v":-71},{"t":1249.1,"v":-71},{"t":1250.2,"v":8.7},{"t":1251.1,"v":-71},
      {"t":1252.5,"v":-55},{"t":1253.8,"v":-45},{"t":1255.2,"v":-60},{"t":1256.7,"v":-71},
      {"t":1263.6,"v":-71},{"t":1264.7,"v":12.1},{"t":1265.6,"v":-71},{"t":1266.6,"v":-71},{"t":1267.7,"v":12.1},{"t":1268.6,"v":-71},{"t":1269.5,"v":-71},{"t":1270.6,"v":12.1},{"t":1271.5,"v":-71},
      {"t":1272.5,"v":-55},{"t":1274.6,"v":-19},{"t":1276.5,"v":-40},{"t":1278.5,"v":-71},
      {"t":1284,"v":-71},{"t":1285.1,"v":12.7},{"t":1285.9,"v":-71},{"t":1286.3,"v":-71},{"t":1287.1,"v":12.7},{"t":1287.8,"v":-71},{"t":1288.5,"v":12.7},{"t":1289.3,"v":-71},{"t":1290.4,"v":-71},{"t":1291.5,"v":9.2},{"t":1292.4,"v":-71},
      {"t":1297.4,"v":-71},{"t":1300,"v":-55},{"t":1301.5,"v":-48.6},{"t":1302.5,"v":-30},{"t":1303.4,"v":11.6},{"t":1304.3,"v":-71},{"t":1305.8,"v":-71},{"t":1306.9,"v":11.6},{"t":1307.8,"v":-71},{"t":1308.8,"v":-71},{"t":1309.9,"v":10.7},{"t":1310.8,"v":-71},{"t":1312.2,"v":-71},{"t":1313.3,"v":9.8},{"t":1314.2,"v":-71},
      {"t":1316.5,"v":-71},{"t":1318.1,"v":-50},{"t":1319.2,"v":11.6},{"t":1320.1,"v":-71},{"t":1321.2,"v":-71},{"t":1326.2,"v":-25},{"t":1328,"v":-5},{"t":1329.2,"v":10.7},{"t":1330.1,"v":-71},{"t":1333,"v":-71},{"t":1335,"v":-70},{"t":1337,"v":-71},{"t":1400,"v":-71}
    ],
    "lp": [
      {"t":800,"v":-71},{"t":802,"v":-71},{"t":803.1,"v":10.7},{"t":804,"v":-71},{"t":804.3,"v":-71},{"t":805.4,"v":10.7},{"t":806.3,"v":-71},{"t":806.5,"v":-71},{"t":807.4,"v":10.7},{"t":808.3,"v":-71},{"t":809.2,"v":-71},{"t":810.3,"v":10.7},{"t":811.2,"v":-71},
      {"t":812.8,"v":-55},{"t":814.6,"v":-35.5},{"t":816.2,"v":-55},{"t":817,"v":-71},
      {"t":824.1,"v":-71},{"t":824.9,"v":10.7},{"t":825.6,"v":-71},{"t":826,"v":-71},{"t":826.8,"v":10.7},{"t":827.5,"v":-71},{"t":827.7,"v":-71},{"t":828.4,"v":10.7},{"t":829.1,"v":-71},{"t":829.4,"v":-71},{"t":830.2,"v":12.7},{"t":831,"v":-71},
      {"t":831.8,"v":-50},{"t":833.3,"v":-22.5},{"t":834.8,"v":-50},{"t":835.6,"v":-71},
      {"t":842.3,"v":-71},{"t":843.4,"v":9.8},{"t":844.3,"v":-71},{"t":846.2,"v":-71},{"t":847.3,"v":12.7},{"t":848.2,"v":-71},
      {"t":849.5,"v":-60},{"t":850.5,"v":-45},{"t":852.1,"v":-29},{"t":853.7,"v":-50},{"t":855.2,"v":-71},
      {"t":859.5,"v":-71},{"t":861,"v":-65},{"t":862.5,"v":10.7},{"t":863.4,"v":-71},{"t":863.7,"v":-71},{"t":864.8,"v":9.8},{"t":865.7,"v":-71},{"t":866.6,"v":-71},{"t":867.7,"v":10.7},{"t":868.6,"v":-71},
      {"t":869.5,"v":-65},{"t":871.6,"v":-48.6},{"t":873,"v":-40},{"t":874.9,"v":10.7},{"t":875.8,"v":-71},{"t":878.3,"v":-71},{"t":879.4,"v":10.7},{"t":880.3,"v":-71},{"t":882.8,"v":-71},{"t":883.9,"v":14.2},{"t":884.8,"v":-71},{"t":885.7,"v":-71},{"t":886.8,"v":12.7},{"t":887.7,"v":-71},
      {"t":890,"v":-65},{"t":891.8,"v":-29},{"t":892.8,"v":-10},{"t":893.6,"v":12.1},{"t":894.5,"v":-71},{"t":894.8,"v":-71},{"t":895.9,"v":11.6},{"t":896.8,"v":-71},{"t":897.7,"v":-71},{"t":898.8,"v":8.7},{"t":899.7,"v":-71},
      {"t":900.5,"v":-71},{"t":903,"v":-60},{"t":906,"v":-40},{"t":908.6,"v":-12.4},{"t":910,"v":-40},{"t":911.5,"v":-71},
      {"t":916.8,"v":-71},{"t":917.9,"v":11.6},{"t":918.8,"v":-71},
      {"t":919.5,"v":-50},{"t":921.2,"v":-11.6},{"t":923,"v":-50},{"t":924,"v":-71},
      {"t":928.5,"v":-71},{"t":929.6,"v":14.5},{"t":930.5,"v":-50},{"t":931.5,"v":-10},{"t":932.9,"v":3.5},{"t":935.5,"v":-28},{"t":937.2,"v":-56},{"t":938.5,"v":-45},{"t":940.1,"v":-28},{"t":942,"v":-50},{"t":944.3,"v":-71},
      {"t":947.7,"v":-71},{"t":948.8,"v":9.8},{"t":949.7,"v":-71},{"t":949.9,"v":-71},{"t":951,"v":10.7},{"t":951.9,"v":-71},{"t":952.6,"v":-71},{"t":953.7,"v":9.8},{"t":954.6,"v":-71},
      {"t":955.5,"v":-55},{"t":956.8,"v":-38.4},{"t":958.2,"v":-55},{"t":959.8,"v":-71},
      {"t":963.2,"v":-71},{"t":964,"v":12.1},{"t":964.8,"v":-71},{"t":965.2,"v":-71},{"t":966,"v":14.2},{"t":966.6,"v":-30},{"t":967.3,"v":14.5},{"t":968,"v":-71},{"t":968.7,"v":-71},{"t":969.5,"v":12.1},{"t":970.3,"v":-71},
      {"t":972.5,"v":-65},{"t":975,"v":-55},{"t":977.6,"v":-48.6},{"t":979,"v":-55},{"t":980.8,"v":-56.6},{"t":982,"v":-50},{"t":983,"v":-30},{"t":984,"v":12.1},{"t":984.9,"v":-71},{"t":986.3,"v":-71},{"t":987.4,"v":12.1},{"t":988.3,"v":-71},{"t":989.2,"v":-71},{"t":990.3,"v":9.8},{"t":991.2,"v":-71},
      {"t":997.3,"v":-71},{"t":998.1,"v":9.8},{"t":998.8,"v":-50},{"t":999.7,"v":9.8},{"t":1000.5,"v":-71},{"t":1001.4,"v":-71},{"t":1002.5,"v":9.8},{"t":1003.4,"v":-71},
      {"t":1007.8,"v":-71},{"t":1009,"v":-60},{"t":1010.7,"v":-47},{"t":1012.5,"v":-60},{"t":1014.6,"v":-71},
      {"t":1016.4,"v":-71},{"t":1017.5,"v":14.5},{"t":1018.4,"v":-71},{"t":1019.3,"v":-71},{"t":1020.4,"v":12.1},{"t":1021.3,"v":-71},{"t":1021.5,"v":-71},{"t":1022.4,"v":10.7},{"t":1023.3,"v":-71},
      {"t":1025,"v":-60},{"t":1027,"v":-42},{"t":1029.2,"v":-32.7},{"t":1031.5,"v":-50},{"t":1034,"v":-71},
      {"t":1036.3,"v":-71},{"t":1037.4,"v":12.1},{"t":1038.3,"v":-71},{"t":1039.4,"v":-71},{"t":1040.5,"v":12.7},{"t":1041.4,"v":-71},{"t":1043.3,"v":-71},{"t":1044.4,"v":12.1},{"t":1045.3,"v":-71},
      {"t":1046.5,"v":-50},{"t":1048.6,"v":-16.2},{"t":1050.5,"v":-40},{"t":1052.5,"v":-71},
      {"t":1057.3,"v":-71},{"t":1058.4,"v":9.2},{"t":1059.3,"v":-71},{"t":1059.8,"v":-71},{"t":1060.9,"v":10.7},{"t":1061.8,"v":-71},{"t":1063.5,"v":-71},{"t":1064.6,"v":12.1},{"t":1065.5,"v":-71},
      {"t":1067.5,"v":-62},{"t":1069.1,"v":-51.4},{"t":1071,"v":-62},{"t":1073,"v":-71},
      {"t":1076.7,"v":-71},{"t":1077.8,"v":14.2},{"t":1078.7,"v":-71},{"t":1079.6,"v":-71},{"t":1080.7,"v":12.1},{"t":1081.6,"v":-71},{"t":1082.2,"v":-71},{"t":1083.3,"v":10.7},{"t":1084.2,"v":-71},{"t":1086.4,"v":-71},{"t":1087.5,"v":12.1},{"t":1088.4,"v":-71},
      {"t":1096.6,"v":-71},{"t":1097.5,"v":8.7},{"t":1098.4,"v":-71},{"t":1099.1,"v":-71},{"t":1100,"v":9.8},{"t":1100.9,"v":-71},{"t":1102.9,"v":-71},{"t":1104,"v":12.7},{"t":1104.9,"v":-71},
      {"t":1106,"v":-60},{"t":1107.9,"v":-43},{"t":1110,"v":-60},{"t":1111.9,"v":-71},
      {"t":1116.2,"v":-71},{"t":1117.3,"v":14.5},{"t":1118.2,"v":-60},{"t":1119.2,"v":14.5},{"t":1120.1,"v":-71},{"t":1121.7,"v":-71},{"t":1122.8,"v":9.8},{"t":1123.7,"v":-71},
      {"t":1125.5,"v":-60},{"t":1128.4,"v":-35.5},{"t":1130.5,"v":-55},{"t":1132.3,"v":-71},
      {"t":1136.2,"v":-71},{"t":1137.3,"v":12.1},{"t":1138.2,"v":-71},{"t":1139.6,"v":-71},{"t":1140.7,"v":12.7},{"t":1141.6,"v":-71},{"t":1143.5,"v":-71},{"t":1144.6,"v":10.7},{"t":1145.5,"v":-71},
      {"t":1149,"v":-71},{"t":1151,"v":-68},{"t":1153,"v":-62},{"t":1154.6,"v":-58},{"t":1155.5,"v":-40},{"t":1156.5,"v":12.1},{"t":1157.4,"v":-71},{"t":1158.4,"v":-71},{"t":1159.5,"v":12.1},{"t":1160.4,"v":-71},{"t":1162.5,"v":-65},{"t":1164,"v":-40},{"t":1165.1,"v":10.7},{"t":1166,"v":-71},
      {"t":1170.4,"v":-71},{"t":1172.5,"v":-64},{"t":1174.7,"v":-40},{"t":1175.8,"v":10.7},{"t":1176.7,"v":-71},{"t":1177.3,"v":-71},{"t":1178.4,"v":12.7},{"t":1179.3,"v":-71},{"t":1180.6,"v":-71},{"t":1181.7,"v":9.2},{"t":1182.6,"v":-71},{"t":1185.6,"v":-71},{"t":1186.7,"v":9.2},{"t":1187.6,"v":-71},
      {"t":1193.5,"v":-71},{"t":1194.6,"v":8.7},{"t":1195.5,"v":-71},{"t":1196.1,"v":-71},{"t":1197.2,"v":10.7},{"t":1198.1,"v":-71},{"t":1201.1,"v":-71},{"t":1202.2,"v":9.2},{"t":1203.1,"v":-71},
      {"t":1204.5,"v":-50},{"t":1206.5,"v":-31},{"t":1208.5,"v":-55},{"t":1210.1,"v":-71},
      {"t":1214.6,"v":-71},{"t":1215.7,"v":9.8},{"t":1216.6,"v":-71},{"t":1217,"v":-71},{"t":1218.1,"v":12.7},{"t":1219,"v":-71},{"t":1219.9,"v":-71},{"t":1221,"v":12.1},{"t":1221.9,"v":-71},
      {"t":1223.5,"v":-50},{"t":1225.4,"v":-35.5},{"t":1227.3,"v":-55},{"t":1229,"v":-71},
      {"t":1233.4,"v":-71},{"t":1234.5,"v":10.7},{"t":1235.4,"v":-71},{"t":1236.2,"v":-71},{"t":1237.3,"v":9.8},{"t":1238.2,"v":-71},{"t":1239.4,"v":-71},{"t":1240.5,"v":10.7},{"t":1241.4,"v":-71},
      {"t":1242.5,"v":-50},{"t":1244.2,"v":-33.5},{"t":1246.3,"v":-55},{"t":1248.8,"v":-71},
      {"t":1252.7,"v":-71},{"t":1253.8,"v":12.7},{"t":1254.7,"v":-71},{"t":1255.6,"v":-71},{"t":1256.7,"v":12.1},{"t":1257.6,"v":-71},{"t":1258.6,"v":-71},{"t":1259.7,"v":10.7},{"t":1260.6,"v":-71},
      {"t":1262.5,"v":-55},{"t":1264.3,"v":-44},{"t":1266,"v":-60},{"t":1267.7,"v":-71},
      {"t":1273.5,"v":-71},{"t":1274.6,"v":10.7},{"t":1275.5,"v":-71},{"t":1276.1,"v":-71},{"t":1277.2,"v":10.7},{"t":1278.1,"v":-71},{"t":1278.5,"v":-71},{"t":1279.6,"v":10.7},{"t":1280.5,"v":-71},
      {"t":1282,"v":-55},{"t":1284.5,"v":-27.7},{"t":1286.5,"v":-50},{"t":1288.5,"v":-71},
      {"t":1293.3,"v":-71},{"t":1294.4,"v":12.7},{"t":1295.3,"v":-71},{"t":1295.9,"v":-71},{"t":1297,"v":10.7},{"t":1297.9,"v":-71},{"t":1300.3,"v":-71},{"t":1301.4,"v":9.2},{"t":1302.3,"v":-71},
      {"t":1305,"v":-68},{"t":1307.3,"v":-58.7},{"t":1309,"v":-64},{"t":1311.3,"v":-67},{"t":1314,"v":-65.5},{"t":1318.3,"v":-64.5},{"t":1322,"v":-66},{"t":1327.2,"v":-71},{"t":1400,"v":-71}
    ],
    "rs": [
      {"t":800,"v":-57.4},{"t":803.5,"v":-57.4},{"t":805.8,"v":-70.4},{"t":808.4,"v":-64.8},{"t":813.2,"v":-63.7},{"t":815.2,"v":-63},{"t":816.3,"v":-51.9},{"t":817.5,"v":-35.2},{"t":818.7,"v":-57.4},{"t":819.5,"v":-66.7},{"t":821,"v":-64.8},{"t":823.3,"v":-68.5},{"t":826.8,"v":-67.4},{"t":830.7,"v":-65.9},{"t":832.7,"v":-63},{"t":834.2,"v":-59.3},{"t":836,"v":-41.9},{"t":837.5,"v":-59.3},{"t":838.9,"v":-63},{"t":840.1,"v":-58.5},{"t":841.4,"v":-70.4},{"t":843.4,"v":-63},{"t":845.3,"v":-68.5},{"t":847.3,"v":-63},{"t":850.2,"v":-59.3},{"t":852.1,"v":-44.4},{"t":853.3,"v":-26.7},{"t":854.5,"v":-59.3},{"t":855.4,"v":-70.4},{"t":858,"v":-63},{"t":860.5,"v":-70.4},{"t":862.8,"v":-66.7},{"t":864.8,"v":-59.3},{"t":866.7,"v":-59.3},{"t":868.7,"v":-70.4},{"t":871.6,"v":-53.7},{"t":873,"v":-48.1},{"t":874.9,"v":-55.6},{"t":877.4,"v":-66.7},{"t":880.4,"v":-70.4},{"t":882.3,"v":-66.7},{"t":884.2,"v":-48.1},{"t":885.6,"v":20.4},{"t":886.8,"v":-72.2},{"t":889.1,"v":-70.4},{"t":890.5,"v":-64.8},{"t":892.4,"v":-63},{"t":895.9,"v":-59.3},{"t":898.2,"v":-68.5},{"t":901.8,"v":-55.6},{"t":904.3,"v":-48.1},{"t":906.6,"v":22.2},{"t":907.6,"v":-70.4},{"t":908.6,"v":-55.6},{"t":910.5,"v":-68.5},{"t":914.4,"v":-66.7},{"t":916.7,"v":-55.6},{"t":918.3,"v":-28.5},{"t":919.8,"v":-70.4},{"t":922.2,"v":-63},{"t":925.1,"v":-59.3},{"t":929,"v":-48.9},{"t":930.9,"v":-66.7},{"t":935.8,"v":-44.4},{"t":937.9,"v":34.1},{"t":938.7,"v":-70.4},{"t":939.7,"v":-51.9},{"t":941.6,"v":-59.3},{"t":943.6,"v":-68.5},{"t":945.5,"v":-59.3},{"t":948.4,"v":-66.7},{"t":950.4,"v":-63},{"t":953.7,"v":-48.1},{"t":955.8,"v":-22.2},{"t":958.2,"v":-66.7},{"t":961.1,"v":-63},{"t":965,"v":-65.9},{"t":968.9,"v":-59.3},{"t":972.4,"v":-46.3},{"t":974.3,"v":22.2},{"t":975.7,"v":-70.4},{"t":977.2,"v":-51.1},{"t":979.6,"v":-68.5},{"t":982.5,"v":-66.7},{"t":986.4,"v":-65.9},{"t":988.7,"v":-57.4},{"t":992.2,"v":-55.6},{"t":994.2,"v":-59.3},{"t":998.1,"v":-64.8},{"t":1000,"v":-67.4},{"t":1004.9,"v":-53.7},{"t":1006.8,"v":-33.3},{"t":1007.8,"v":22.2},{"t":1008.8,"v":-70.4},{"t":1010.1,"v":-51.1},{"t":1012.6,"v":-66.7},{"t":1015.6,"v":-64.8},{"t":1019.5,"v":-68.5},{"t":1024.4,"v":-51.9},{"t":1025.7,"v":-29.6},{"t":1026.7,"v":20.4},{"t":1027.6,"v":-55.6},{"t":1028.8,"v":-22.2},{"t":1030.2,"v":-70.4},{"t":1033.1,"v":-66.7},{"t":1037,"v":-67.4},{"t":1040.9,"v":-68.5},{"t":1044.7,"v":-51.9},{"t":1046.3,"v":-29.6},{"t":1047.3,"v":25.2},{"t":1048.2,"v":-70.4},{"t":1049.6,"v":-52.6},{"t":1052.5,"v":-66.7},{"t":1057.4,"v":-67.4},{"t":1060.3,"v":-68.5},{"t":1065.2,"v":-51.9},{"t":1067.1,"v":27.8},{"t":1068.1,"v":-66.7},{"t":1068.9,"v":-40.7},{"t":1069.5,"v":30.4},{"t":1070.4,"v":-70.4},{"t":1073.9,"v":-65.9},{"t":1076.8,"v":-66.7},{"t":1079.7,"v":-68.5},{"t":1083.6,"v":-66.7},{"t":1086.6,"v":-48.1},{"t":1088.1,"v":25.9},{"t":1089.1,"v":-70.4},{"t":1090.5,"v":-55.6},{"t":1092.4,"v":-59.3},{"t":1096.3,"v":-66.7},{"t":1098,"v":-68.9},{"t":1100.2,"v":-69.6},{"t":1102,"v":-67.8},{"t":1105,"v":-62.2},{"t":1107.3,"v":-43.7},{"t":1108.3,"v":28.5},{"t":1108.9,"v":-69.6},{"t":1110.3,"v":-43},{"t":1111.9,"v":-65.9},{"t":1113.9,"v":-63},{"t":1116.9,"v":-66.7},{"t":1118.8,"v":-69.6},{"t":1122.8,"v":-66.7},{"t":1125.2,"v":-51.1},{"t":1126.4,"v":-32.6},{"t":1127.4,"v":30.4},{"t":1128,"v":-69.6},{"t":1129.8,"v":-47.4},{"t":1132.7,"v":-62.2},{"t":1134.7,"v":-65.9},{"t":1137.7,"v":-69.6},{"t":1141.7,"v":-66.7},{"t":1144.6,"v":-51.1},{"t":1146,"v":-28.9},{"t":1147,"v":39.6},{"t":1147.8,"v":-67.8},{"t":1149.6,"v":-49.3},{"t":1151.6,"v":-65.9},{"t":1154.6,"v":-66.7},{"t":1158.5,"v":-66.7},{"t":1160.5,"v":-69.6},{"t":1162.5,"v":-62.2},{"t":1163.5,"v":-64.1},{"t":1165.5,"v":-47.4},{"t":1167.5,"v":33.3},{"t":1168.1,"v":-69.6},{"t":1169.8,"v":-49.3},{"t":1172.4,"v":-65.9},{"t":1175.4,"v":-66.7},{"t":1178.4,"v":-67.8},{"t":1180.4,"v":-65.9},{"t":1183.3,"v":-47.4},{"t":1184.3,"v":-32.6},{"t":1185.3,"v":23},{"t":1185.9,"v":-69.6},{"t":1187.3,"v":-44.4},{"t":1189.3,"v":-65.9},{"t":1192.3,"v":-66.7},{"t":1196.2,"v":-67.8},{"t":1199.2,"v":-66.7},{"t":1202.2,"v":-54.8},{"t":1203.8,"v":-32.6},{"t":1204.8,"v":35.9},{"t":1205.8,"v":-67.8},{"t":1207.7,"v":-53},{"t":1210.1,"v":-66.7},{"t":1214.1,"v":-67.8},{"t":1218.1,"v":-65.9},{"t":1220,"v":-58.5},{"t":1223,"v":-36.3},{"t":1225,"v":30.4},{"t":1225.6,"v":-69.6},{"t":1228,"v":-54.8},{"t":1230,"v":-65.9},{"t":1233.9,"v":-66.7},{"t":1235.9,"v":-69.6},{"t":1238.9,"v":-65.9},{"t":1241.5,"v":-54.8},{"t":1242.9,"v":-28.9},{"t":1243.8,"v":38.5},{"t":1244.8,"v":-67.8},{"t":1245.8,"v":-43},{"t":1247.8,"v":-65.9},{"t":1251.8,"v":-66.7},{"t":1255.8,"v":-69.6},{"t":1259.7,"v":-65.9},{"t":1262.7,"v":-43.7},{"t":1264.3,"v":34.1},{"t":1265.3,"v":-69.6},{"t":1267.7,"v":-49.3},{"t":1269.6,"v":-66.7},{"t":1272.6,"v":-65.9},{"t":1274.6,"v":-69.6},{"t":1278.6,"v":-67.8},{"t":1282.5,"v":-54.8},{"t":1284.5,"v":-32.6},{"t":1285.5,"v":23.7},{"t":1286.1,"v":-69.6},{"t":1287.9,"v":-54.8},{"t":1290.5,"v":-66.7},{"t":1293.5,"v":-69.6},{"t":1297.4,"v":-67.8},{"t":1301.4,"v":-62.2},{"t":1303.4,"v":-51.1},{"t":1305,"v":-28.9},{"t":1306.3,"v":-3.7},{"t":1307.7,"v":-71.5},{"t":1309.7,"v":-71.5},{"t":1312.3,"v":-64.1},{"t":1314.3,"v":-66.7},{"t":1317.3,"v":-65.2},{"t":1322.2,"v":-64.1},{"t":1326.2,"v":-62.2},{"t":1329.2,"v":-60.4},{"t":1331.2,"v":-61.5},{"t":1335.1,"v":-58.5},{"t":1339.1,"v":-57.8},{"t":1345,"v":-57.4},{"t":1400,"v":-57.4}
    ],
    "ls": [
      {"t":800,"v":-57.1},{"t":802.5,"v":-55.4},{"t":805.1,"v":-48.2},{"t":807.4,"v":-58.9},{"t":811.3,"v":-59.6},{"t":812.3,"v":-58.9},{"t":814.2,"v":-66.1},{"t":816.1,"v":-67.9},{"t":819.1,"v":-65.4},{"t":822,"v":-67.9},{"t":824.9,"v":-55.4},{"t":826.5,"v":-42.9},{"t":828.4,"v":-60.7},{"t":829.8,"v":-58.9},{"t":831.7,"v":-66.1},{"t":833.7,"v":-65.4},{"t":835.6,"v":-67.9},{"t":838.5,"v":-64.3},{"t":840.9,"v":-58.9},{"t":842.4,"v":-62.5},{"t":844.7,"v":-48.2},{"t":846.3,"v":-33.9},{"t":848.2,"v":-67.9},{"t":850.2,"v":-64.3},{"t":853.1,"v":-66.1},{"t":857,"v":-64.3},{"t":859.9,"v":-60.7},{"t":862.3,"v":-48.2},{"t":863.2,"v":25},{"t":863.8,"v":-69.6},{"t":865.4,"v":-57.1},{"t":867.7,"v":-64.3},{"t":869.6,"v":-69.6},{"t":872.6,"v":-62.5},{"t":873.9,"v":-48.2},{"t":875.1,"v":-34.6},{"t":876.5,"v":-66.1},{"t":878.4,"v":-66.1},{"t":882.3,"v":-55.4},{"t":884.8,"v":-25},{"t":886.2,"v":-69.6},{"t":888.7,"v":-66.1},{"t":890.1,"v":-58.9},{"t":892,"v":-62.5},{"t":894.6,"v":-48.2},{"t":895.9,"v":33.9},{"t":896.9,"v":-69.6},{"t":898.8,"v":-64.3},{"t":901.8,"v":-65.4},{"t":904.7,"v":-62.5},{"t":907,"v":-55.4},{"t":909.5,"v":-60.7},{"t":912.5,"v":-60.7},{"t":914.8,"v":-44.6},{"t":916.3,"v":33.9},{"t":917.3,"v":-67.9},{"t":919.3,"v":-66.1},{"t":922.2,"v":-62.5},{"t":925.1,"v":-65.4},{"t":927,"v":-60.7},{"t":928,"v":-44.6},{"t":929,"v":32.1},{"t":930,"v":-67.9},{"t":931.9,"v":-66.1},{"t":934.8,"v":-58.9},{"t":935.8,"v":-60.7},{"t":937.7,"v":-50},{"t":939.7,"v":-60.7},{"t":942.6,"v":-62.5},{"t":944.6,"v":-67.9},{"t":947.5,"v":-58.9},{"t":949.4,"v":-36.4},{"t":951.4,"v":-58.9},{"t":954.3,"v":-55.4},{"t":957.2,"v":-62.5},{"t":960.1,"v":-58.9},{"t":962.6,"v":-37.5},{"t":964,"v":30.4},{"t":965,"v":-66.1},{"t":966.5,"v":-55.4},{"t":968.9,"v":-64.3},{"t":971.8,"v":-60.7},{"t":973.7,"v":-66.1},{"t":974.7,"v":-58.2},{"t":976.7,"v":-58.9},{"t":979.6,"v":-58.9},{"t":982.5,"v":-44.6},{"t":984,"v":32.1},{"t":984.8,"v":-67.9},{"t":987.4,"v":-57.1},{"t":989.3,"v":-62.5},{"t":991.2,"v":-69.6},{"t":994.2,"v":-62.5},{"t":997.1,"v":-41.1},{"t":998.6,"v":20.4},{"t":999.6,"v":-69.6},{"t":1001.9,"v":-62.5},{"t":1004.9,"v":-65.4},{"t":1007.8,"v":-66.1},{"t":1011.7,"v":-66.1},{"t":1014.6,"v":-58.9},{"t":1016.5,"v":-33.9},{"t":1017.5,"v":35.7},{"t":1018.5,"v":-69.6},{"t":1020.4,"v":-55.4},{"t":1022.4,"v":-65.4},{"t":1026.3,"v":-66.1},{"t":1028.2,"v":-66.1},{"t":1034,"v":-58.9},{"t":1036,"v":-33.9},{"t":1037,"v":33.9},{"t":1037.9,"v":-69.6},{"t":1039.9,"v":-58.9},{"t":1041.8,"v":-62.5},{"t":1043.8,"v":-66.1},{"t":1046.7,"v":-66.1},{"t":1054.5,"v":-58.9},{"t":1056.4,"v":-50},{"t":1057.8,"v":-43.9},{"t":1059.3,"v":-66.1},{"t":1062.3,"v":-66.1},{"t":1066.1,"v":-69.6},{"t":1071,"v":-67.9},{"t":1075.9,"v":-48.2},{"t":1078.2,"v":-22.5},{"t":1080.2,"v":-69.6},{"t":1081.7,"v":-58.9},{"t":1083.7,"v":-64.3},{"t":1087.5,"v":-67.9},{"t":1093.4,"v":-66.1},{"t":1096.9,"v":-48.2},{"t":1098.6,"v":-38.2},{"t":1100.8,"v":-58.9},{"t":1102,"v":-62.5},{"t":1104,"v":-58.9},{"t":1106,"v":-66.1},{"t":1109.9,"v":-66.8},{"t":1113.9,"v":-62.5},{"t":1116.5,"v":-41.1},{"t":1118.3,"v":32.1},{"t":1119.2,"v":-71.4},{"t":1121.8,"v":-55.4},{"t":1124.8,"v":-64.3},{"t":1126.8,"v":-67.9},{"t":1130.8,"v":-66.8},{"t":1133.7,"v":-65.4},{"t":1136.7,"v":-51.8},{"t":1138.3,"v":-23.2},{"t":1139.7,"v":19.6},{"t":1140.7,"v":-71.4},{"t":1143.7,"v":-71.4},{"t":1146.6,"v":-66.1},{"t":1149.6,"v":-66.8},{"t":1152.6,"v":-62.5},{"t":1154.6,"v":-62.5},{"t":1157.1,"v":-30.4},{"t":1158.5,"v":-67.9},{"t":1161.5,"v":-57.1},{"t":1164.5,"v":-64.3},{"t":1167.5,"v":-67.9},{"t":1171.4,"v":-66.8},{"t":1174.4,"v":-58.9},{"t":1176.4,"v":-27.5},{"t":1178.4,"v":-69.6},{"t":1180.8,"v":-51.8},{"t":1182.3,"v":-66.1},{"t":1185.3,"v":-60.7},{"t":1188.3,"v":-67.9},{"t":1191.3,"v":-66.1},{"t":1193.5,"v":-41.1},{"t":1194.6,"v":26.8},{"t":1195.2,"v":-69.6},{"t":1196.6,"v":-57.1},{"t":1199.2,"v":-60.7},{"t":1203.2,"v":-62.5},{"t":1207.1,"v":-67.9},{"t":1210.1,"v":-66.8},{"t":1213.7,"v":-44.6},{"t":1215.1,"v":34.6},{"t":1216.1,"v":-69.6},{"t":1218.1,"v":-57.1},{"t":1220,"v":-58.9},{"t":1223,"v":-66.8},{"t":1226,"v":-67.9},{"t":1230,"v":-66.8},{"t":1233,"v":-48.2},{"t":1234.5,"v":23.9},{"t":1235.5,"v":-71.4},{"t":1237.9,"v":-55.4},{"t":1240.9,"v":-66.1},{"t":1245.8,"v":-66.8},{"t":1248.8,"v":-67.9},{"t":1251.8,"v":-66.1},{"t":1253.8,"v":-44.6},{"t":1254.8,"v":27.5},{"t":1255.8,"v":-69.6},{"t":1258.1,"v":-57.1},{"t":1260.7,"v":-64.3},{"t":1264.7,"v":-66.8},{"t":1267.7,"v":-67.9},{"t":1270.6,"v":-65.4},{"t":1273.6,"v":-58.9},{"t":1275.6,"v":-43.9},{"t":1277.6,"v":-58.9},{"t":1280.6,"v":-66.1},{"t":1283.5,"v":-65.4},{"t":1286.5,"v":-67.9},{"t":1289.5,"v":-66.8},{"t":1292.5,"v":-55.4},{"t":1295.4,"v":-45.4},{"t":1297.4,"v":-60.7},{"t":1301.4,"v":-62.5},{"t":1304.4,"v":-66.8},{"t":1308.3,"v":-66.1},{"t":1310.3,"v":-67.9},{"t":1312.3,"v":-62.5},{"t":1314.3,"v":-64.3},{"t":1319.2,"v":-58.9},{"t":1323.2,"v":-57.1},{"t":1329.2,"v":-57.1},{"t":1400,"v":-57.1}
    ]
  },
  "vconcat": [
    {
      "title": "R_Muscle Fast AP Membrane Potential",
      "width": 1101, "height": 113,
      "data": {"name": "rm"},
      "mark": {"type": "line", "color": "#ff0000", "strokeWidth": 1.4, "opacity": 0.75, "clip": true},
      "encoding": {
        "x": {"field": "t", "type": "quantitative", "scale": {"domain": [800, 1400], "nice": false},
              "axis": {"values": [800, 900, 1000, 1100, 1200, 1300, 1400], "format": "d", "title": "Time (ms)", "titleY": 45, "titleBaseline": "middle",
                       "labelAlign": {"condition": {"test": "datum.value === 1400", "value": "right"}, "value": "center"},
                       "labelOffset": {"condition": {"test": "datum.value === 1400", "value": 8}, "value": 0}}},
        "y": {"field": "v", "type": "quantitative", "scale": {"domain": [-74.9, 35.7], "nice": false, "zero": false},
              "axis": {"values": [-50, 0], "title": "Memb. Pot. (mV)", "titleX": -66, "titleBaseline": "middle"}}
      }
    },
    {
      "title": "L_Muscle Fast AP Membrane Potential",
      "width": 1101, "height": 113,
      "data": {"name": "lm"},
      "mark": {"type": "line", "color": "#ff0000", "strokeWidth": 1.4, "opacity": 0.75, "clip": true},
      "encoding": {
        "x": {"field": "t", "type": "quantitative", "scale": {"domain": [800, 1400], "nice": false},
              "axis": {"values": [800, 900, 1000, 1100, 1200, 1300, 1400], "format": "d", "title": "Time (ms)", "titleY": 45, "titleBaseline": "middle",
                       "labelAlign": {"condition": {"test": "datum.value === 1400", "value": "right"}, "value": "center"},
                       "labelOffset": {"condition": {"test": "datum.value === 1400", "value": 8}, "value": 0}}},
        "y": {"field": "v", "type": "quantitative", "scale": {"domain": [-74.9, 35.7], "nice": false, "zero": false},
              "axis": {"values": [-50, 0], "title": "Memb. Pot. (mV)", "titleX": -66, "titleBaseline": "middle"}}
      }
    },
    {
      "title": "R_pMN Membrane Potential",
      "width": 1101, "height": 113,
      "data": {"name": "rp"},
      "mark": {"type": "line", "color": "#ff1493", "strokeWidth": 1.4, "opacity": 0.75, "interpolate": "monotone", "clip": true},
      "encoding": {
        "x": {"field": "t", "type": "quantitative", "scale": {"domain": [800, 1400], "nice": false},
              "axis": {"values": [800, 900, 1000, 1100, 1200, 1300, 1400], "format": "d", "title": "Time (ms)", "titleY": 45, "titleBaseline": "middle",
                       "labelAlign": {"condition": {"test": "datum.value === 1400", "value": "right"}, "value": "center"},
                       "labelOffset": {"condition": {"test": "datum.value === 1400", "value": 8}, "value": 0}}},
        "y": {"field": "v", "type": "quantitative", "scale": {"domain": [-81.7, 19.3], "nice": false, "zero": false},
              "axis": {"values": [-50, 0], "title": "Memb. Pot. (mV)", "titleX": -66, "titleBaseline": "middle"}}
      }
    },
    {
      "title": "L_pMN Membrane Potential",
      "width": 1101, "height": 113,
      "data": {"name": "lp"},
      "mark": {"type": "line", "color": "#ff1493", "strokeWidth": 1.4, "opacity": 0.75, "interpolate": "monotone", "clip": true},
      "encoding": {
        "x": {"field": "t", "type": "quantitative", "scale": {"domain": [800, 1400], "nice": false},
              "axis": {"values": [800, 900, 1000, 1100, 1200, 1300, 1400], "format": "d", "title": "Time (ms)", "titleY": 45, "titleBaseline": "middle",
                       "labelAlign": {"condition": {"test": "datum.value === 1400", "value": "right"}, "value": "center"},
                       "labelOffset": {"condition": {"test": "datum.value === 1400", "value": 8}, "value": 0}}},
        "y": {"field": "v", "type": "quantitative", "scale": {"domain": [-81.7, 19.3], "nice": false, "zero": false},
              "axis": {"values": [-50, 0], "title": "Memb. Pot. (mV)", "titleX": -66, "titleBaseline": "middle"}}
      }
    },
    {
      "title": "R_sMN-m-type Membrane Potential",
      "width": 1101, "height": 113,
      "data": {"name": "rs"},
      "mark": {"type": "line", "color": "#ff00ff", "strokeWidth": 1.4, "opacity": 0.75, "interpolate": "monotone", "clip": true},
      "encoding": {
        "x": {"field": "t", "type": "quantitative", "scale": {"domain": [800, 1400], "nice": false},
              "axis": {"values": [800, 900, 1000, 1100, 1200, 1300, 1400], "format": "d", "title": "Time (ms)", "titleY": 45, "titleBaseline": "middle",
                       "labelAlign": {"condition": {"test": "datum.value === 1400", "value": "right"}, "value": "center"},
                       "labelOffset": {"condition": {"test": "datum.value === 1400", "value": 8}, "value": 0}}},
        "y": {"field": "v", "type": "quantitative", "scale": {"domain": [-83.3, 46.2], "nice": false, "zero": false},
              "axis": {"values": [-50, 0], "title": "Memb. Pot. (mV)", "titleX": -66, "titleBaseline": "middle"}}
      }
    },
    {
      "title": "L_sMN-m-type Membrane Potential",
      "width": 1101, "height": 113,
      "data": {"name": "ls"},
      "mark": {"type": "line", "color": "#ff00ff", "strokeWidth": 1.4, "opacity": 0.75, "interpolate": "monotone", "clip": true},
      "encoding": {
        "x": {"field": "t", "type": "quantitative", "scale": {"domain": [800, 1400], "nice": false},
              "axis": {"values": [800, 900, 1000, 1100, 1200, 1300, 1400], "format": "d", "title": "Time (ms)", "titleY": 45, "titleBaseline": "middle",
                       "labelAlign": {"condition": {"test": "datum.value === 1400", "value": "right"}, "value": "center"},
                       "labelOffset": {"condition": {"test": "datum.value === 1400", "value": 8}, "value": 0}}},
        "y": {"field": "v", "type": "quantitative", "scale": {"domain": [-82.1, 42.9], "nice": false, "zero": false},
              "axis": {"values": [-50, 0], "title": "Memb. Pot. (mV)", "titleX": -66, "titleBaseline": "middle"}}
      }
    }
  ]
}
